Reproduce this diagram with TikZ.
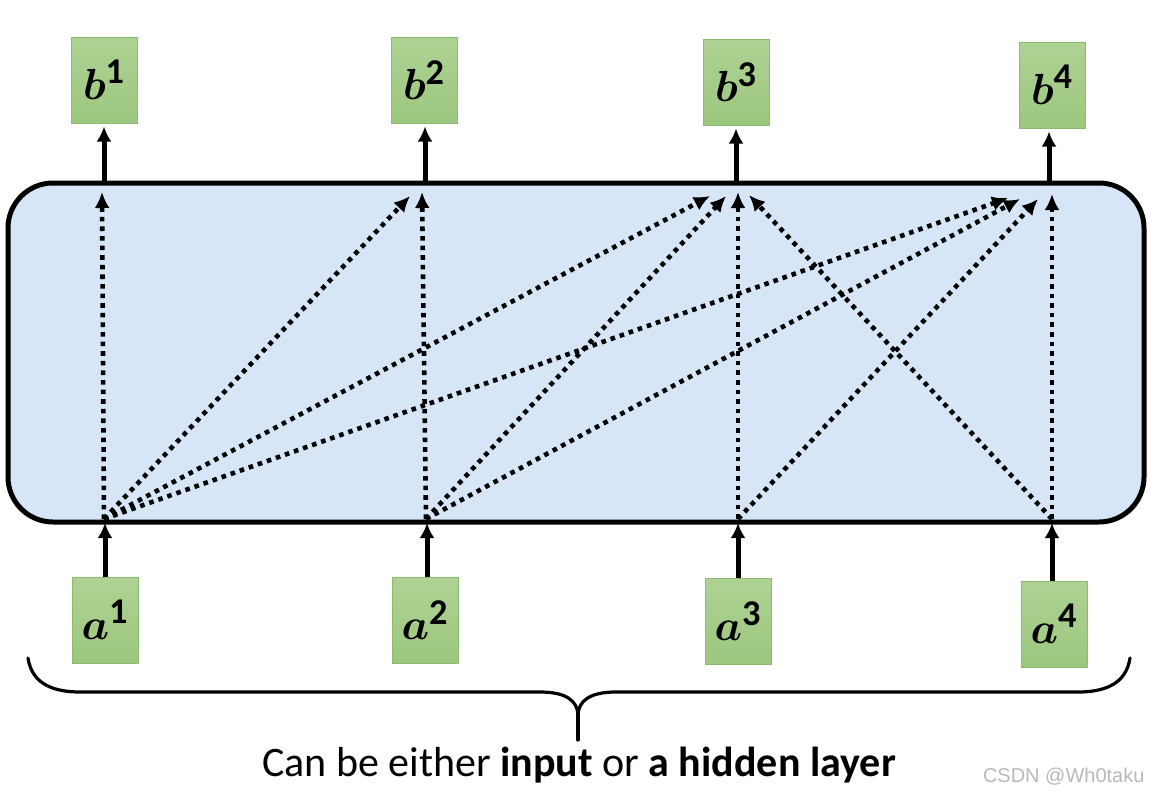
\documentclass[tikz,border=0pt]{standalone}
\usepackage{graphicx}
\usepackage{amsmath,bm}
\usepackage{fontspec}
\setmainfont{Carlito}
\newfontfamily\wmfont{Liberation Sans}
\usetikzlibrary{arrows.meta,calc}
\definecolor{gtop}{RGB}{174,210,148}
\definecolor{gbot}{RGB}{156,199,126}
\definecolor{gedge}{RGB}{140,186,110}
\definecolor{bluebg}{RGB}{214,230,246}
\definecolor{wmgray}{RGB}{185,185,185}
\newcommand{\lbl}[2]{\scalebox{1.75}{$\boldsymbol{#1}^{\mathbf{#2}}$}}
\begin{document}
\begin{tikzpicture}[x=1pt,y=-1pt,
  gbox/.style={draw=gedge,line width=1pt,top color=gtop,bottom color=gbot,
    minimum width=66pt,minimum height=86pt,inner sep=0pt,
    font=\fontsize{24.88}{28}\selectfont},
  solidarr/.style={line width=5pt,-{Latex[length=15pt,width=15pt]}},
  dotarr/.style={line width=4.6pt,dash pattern=on 4.6pt off 5pt,
    -{Latex[length=16pt,width=15pt]}},
  bigbox/.style={draw=black,line width=5pt,fill=bluebg,rounded corners=45pt},
  bracestyle/.style={line width=3.2pt,line cap=round},
]
\useasboundingbox (0,0) rectangle (1153,795);

% big attention block
\draw[bigbox] (8,183) rectangle (1144,522);

% output boxes
\node[gbox] (b1) at (104,80) {\lbl{b}{1}};
\node[gbox] (b2) at (424,80) {\lbl{b}{2}};
\node[gbox] (b3) at (736,82) {\lbl{b}{3}};
\node[gbox] (b4) at (1052,85) {\lbl{b}{4}};

% input boxes
\node[gbox] (a1) at (105,620) {\lbl{a}{1}};
\node[gbox] (a2) at (425,620) {\lbl{a}{2}};
\node[gbox] (a3) at (738,621) {\lbl{a}{3}};
\node[gbox] (a4) at (1054,624) {\lbl{a}{4}};

% border points
\coordinate (in1) at (105,523);
\coordinate (in2) at (427,523);
\coordinate (in3) at (738,523);
\coordinate (in4) at (1052,523);
\coordinate (out1) at (104,181);
\coordinate (out2) at (425,181);
\coordinate (out3) at (736,181);
\coordinate (out4) at (1049,181);

% solid arrows
\draw[solidarr] (in1 |- a1.north) -- (in1);
\draw[solidarr] (in2 |- a2.north) -- (in2);
\draw[solidarr] (in3 |- a3.north) -- (in3);
\draw[solidarr] (in4 |- a4.north) -- (in4);
\draw[solidarr] (out1) -- ([yshift=-3pt]out1 |- b1.south);
\draw[solidarr] (out2) -- ([yshift=-3pt]out2 |- b2.south);
\draw[solidarr] (out3) -- ([yshift=-3pt]out3 |- b3.south);
\draw[solidarr] (out4) -- ([yshift=-3pt]out4 |- b4.south);

% dotted start points
\coordinate (s1) at (104,519);
\coordinate (s2) at (426,519);
\coordinate (s3) at (738,519);
\coordinate (s4) at (1052,519);
% dotted targets
\coordinate (t1) at (102,192);
\coordinate (t2) at (422,192);
\coordinate (t3) at (738,192);
\coordinate (t4) at (1052,194);

\draw[dotarr] (s1) -- (t1);
\draw[dotarr] (s1) -- ($(t2)+(-12,4)$);
\draw[dotarr] (s2) -- (t2);
\draw[dotarr] (s1) -- ($(t3)+(-28,4)$);
\draw[dotarr] (s2) -- ($(t3)+(-12,4)$);
\draw[dotarr] (s3) -- (t3);
\draw[dotarr] (s4) -- ($(t3)+(11,3)$);
\draw[dotarr] (s1) -- ($(t4)+(-44,4)$);
\draw[dotarr] (s2) -- ($(t4)+(-32,5)$);
\draw[dotarr] (s3) -- ($(t4)+(-14,5)$);
\draw[dotarr] (s4) -- (t4);

% brace
\coordinate (brL) at (28,658);
\coordinate (brR) at (1130,658);
\coordinate (brTip) at (578,740);
\draw[bracestyle] (brL) .. controls (32,685) and (55,692) .. (80,692)
  -- (540,692) .. controls (565,692) and (578,700) .. (578,716)
  .. controls (578,700) and (591,692) .. (616,692)
  -- (1078,692) .. controls (1103,692) and (1126,685) .. (brR);
\draw[bracestyle] (578,714) -- (brTip);

% caption
\node[font=\fontsize{42}{48}\selectfont,anchor=base] (cap) at (579,776)
  {Can be either \textbf{input} or \textbf{a hidden layer}};

% watermark
\node[font=\wmfont\fontsize{20}{22}\selectfont,text=wmgray,anchor=base east] (wm) at (1148,782) {CSDN @Wh0taku};
\end{tikzpicture}
\end{document}
